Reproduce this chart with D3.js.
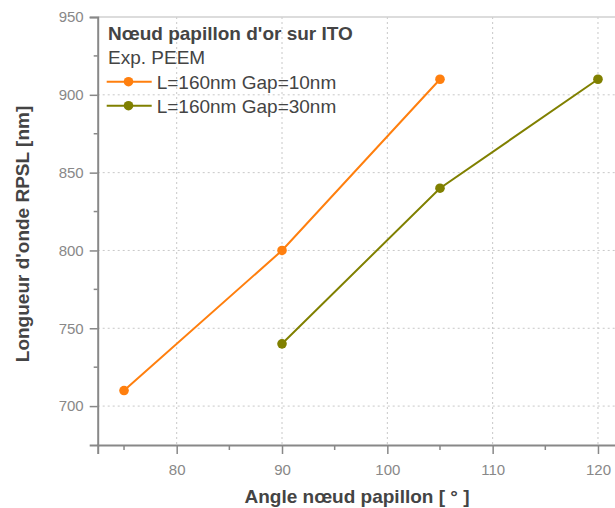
<!DOCTYPE html>
<html><head><meta charset="utf-8">
<script src="https://cdn.jsdelivr.net/npm/d3@7"></script>
<style>body{margin:0;background:#fff}svg{display:block;font-family:"Liberation Sans",Arial,sans-serif}</style>
</head><body><svg id="c" width="615" height="508"></svg>
<script>
const seriesNames = ["L=160nm Gap=10nm", "L=160nm Gap=30nm"];
const seriesColors = ["#ff7f0e", "#808000"];
const anglesA = [75, 90, 105];
const valuesA = [710, 800, 910];
const anglesB = [90, 105, 120];
const valuesB = [740, 840, 910];
const xTicks = [80, 90, 100, 110, 120];
const yTicks = [700, 750, 800, 850, 900, 950];
const legendTitle = "Nœud papillon d'or sur ITO";
const legendSub = "Exp. PEEM";
const xTitle = "Angle nœud papillon [ ° ]";
const yTitle = "Longueur d'onde RPSL [nm]";

const svg = d3.select("#c");
const L = 97.7, T = 17, B = 445;
const x = d3.scaleLinear().domain([72.5, 122.5]).range([L, L + 526.6]);
const y = d3.scaleLinear().domain([675, 950]).range([B, T]);
const axisCol = "#888";
const FF = '"Liberation Sans",Arial,sans-serif';

// grid
const g = svg.append("g");
g.selectAll(".gx").data(xTicks).join("line")
  .attr("x1", d => x(d)).attr("x2", d => x(d)).attr("y1", T).attr("y2", B)
  .attr("stroke", "#c8c8c8").attr("stroke-dasharray", "2,3");
g.selectAll(".gy").data(yTicks.filter(d => d < 950)).join("line")
  .attr("x1", L).attr("x2", 615).attr("y1", d => y(d)).attr("y2", d => y(d))
  .attr("stroke", "#c8c8c8").attr("stroke-dasharray", "2,3");
// top border
svg.append("line").attr("x1", L).attr("x2", 615).attr("y1", y(950)).attr("y2", y(950))
  .attr("stroke", "#d0d0d0").attr("stroke-width", 1.5);

// axes
const yAxis = d3.axisLeft(y).tickValues(yTicks).tickSize(8).tickPadding(6);
const ya = svg.append("g").attr("transform", `translate(${L},0)`).call(yAxis);
const xAxis = d3.axisBottom(x).tickValues(xTicks).tickSize(9).tickPadding(10);
const xa = svg.append("g").attr("transform", `translate(0,${B})`).call(xAxis);
[ya, xa].forEach(a => {
  a.select(".domain").attr("stroke", axisCol).attr("stroke-width", 2);
  a.selectAll(".tick line").attr("stroke", axisCol).attr("stroke-width", 1.5);
  a.selectAll(".tick text").attr("fill", "#888").style("font-size", "15px")
   .style("font-family", FF);
});
// minor ticks
svg.append("g").selectAll("line").data(d3.range(725, 950, 50)).join("line")
  .attr("x1", L - 4).attr("x2", L).attr("y1", d => y(d)).attr("y2", d => y(d))
  .attr("stroke", axisCol).attr("stroke-width", 1.5);
svg.append("g").selectAll("line").data(d3.range(75, 125, 10)).join("line")
  .attr("x1", d => x(d)).attr("x2", d => x(d)).attr("y1", B).attr("y2", B + 5)
  .attr("stroke", axisCol).attr("stroke-width", 1.5);
ya.select(".domain").raise(); xa.select(".domain").raise();

// series
const data = [anglesA.map((a, i) => [a, valuesA[i]]), anglesB.map((a, i) => [a, valuesB[i]])];
const line = d3.line().x(d => x(d[0])).y(d => y(d[1]));
data.forEach((s, i) => {
  svg.append("path").datum(s).attr("d", line).attr("fill", "none")
    .attr("stroke", seriesColors[i]).attr("stroke-width", 2);
  svg.append("g").selectAll("circle").data(s).join("circle")
    .attr("cx", d => x(d[0])).attr("cy", d => y(d[1])).attr("r", 4.8)
    .attr("fill", seriesColors[i]);
});

// legend
const lg = svg.append("g").style("font-family", FF);
lg.append("text").attr("x", 108).attr("y", 40).text(legendTitle)
  .attr("fill", "#444").style("font-size", "19px").style("font-weight", "bold");
lg.append("text").attr("x", 108).attr("y", 64).text(legendSub)
  .attr("fill", "#444").style("font-size", "19px");
seriesNames.forEach((n, i) => {
  const yy = 81.7 + i * 24;
  lg.append("line").attr("x1", 106.7).attr("x2", 151.7).attr("y1", yy).attr("y2", yy)
    .attr("stroke", seriesColors[i]).attr("stroke-width", 2);
  lg.append("circle").attr("cx", 128.5).attr("cy", yy).attr("r", 4.8).attr("fill", seriesColors[i]);
  lg.append("text").attr("x", 156.7).attr("y", yy + 7).text(n)
    .attr("fill", "#444").style("font-size", "19px");
});

// titles
svg.append("text").attr("x", 357).attr("y", 503).attr("text-anchor", "middle")
  .text(xTitle).attr("fill", "#444").style("font-size", "19px").style("font-weight", "bold");
svg.append("text").attr("transform", `translate(29,234) rotate(-90)`)
  .attr("text-anchor", "middle").text(yTitle).attr("fill", "#444")
  .style("font-size", "19px").style("font-weight", "bold");
</script></body></html>
